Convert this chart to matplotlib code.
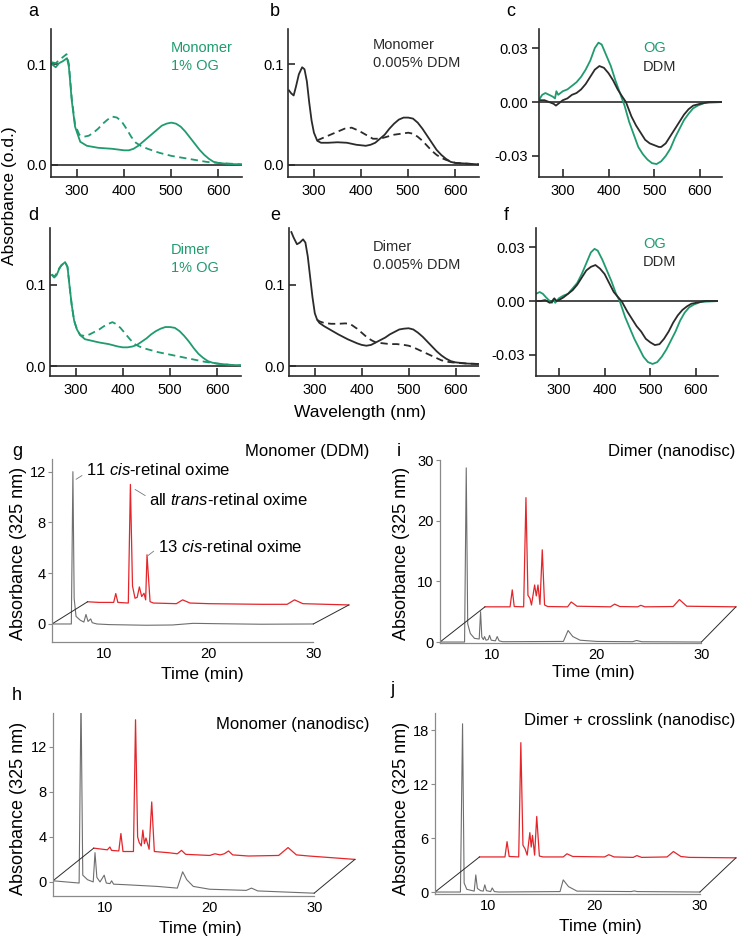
import matplotlib
matplotlib.use("Agg")
import matplotlib.pyplot as plt

plt.rcParams['font.family'] = ['Liberation Sans', 'DejaVu Sans']
plt.rcParams['mathtext.fontset'] = 'custom'
plt.rcParams['mathtext.rm'] = 'Liberation Sans'
plt.rcParams['mathtext.it'] = 'Liberation Sans:italic'

W, H = 738, 943
GREEN = '#1f9b6e'
DARK = '#2b2b2b'
RED = '#e4262b'
GRAY = '#6e6e6e'
AXGRAY = '#8a8a8a'

# ---------------- UV-vis spectra (wavelength nm, absorbance) ----------------
a_wl = [247, 255, 262, 270, 279, 283, 289, 296, 307, 321, 345, 375, 400, 410, 420, 430, 440, 450,
        460, 470, 480, 490, 500, 510, 520, 530, 540, 550, 560, 570, 580, 590, 600, 620, 650]
a_solid = [0.100, 0.097, 0.101, 0.103, 0.106, 0.097, 0.064, 0.038, 0.023, 0.019, 0.017, 0.016, 0.0145,
           0.0145, 0.016, 0.019, 0.023, 0.027, 0.031, 0.035, 0.039, 0.041, 0.042, 0.041, 0.038, 0.033,
           0.027, 0.021, 0.015, 0.010, 0.006, 0.003, 0.002, 0.001, 0.0005]
a_dash_wl = [247, 255, 262, 270, 278, 283, 289, 296, 305, 315, 325, 335, 345, 355, 365, 375, 385, 395,
             405, 415, 425, 435, 450, 475, 500, 525, 550, 575, 600, 650]
a_dash = [0.102, 0.101, 0.104, 0.107, 0.110, 0.100, 0.066, 0.040, 0.030, 0.028, 0.029, 0.032, 0.036,
          0.041, 0.045, 0.048, 0.047, 0.043, 0.036, 0.028, 0.022, 0.019, 0.016, 0.012, 0.009, 0.007,
          0.005, 0.003, 0.002, 0.0005]

b_wl = [247, 252, 257, 262, 268, 275, 280, 285, 290, 295, 300, 307, 315, 330, 350, 370, 390, 410, 420,
        430, 440, 450, 460, 470, 480, 490, 500, 510, 520, 530, 540, 550, 560, 570, 580, 590, 600, 650]
b_solid = [0.074, 0.071, 0.069, 0.078, 0.090, 0.097, 0.095, 0.083, 0.062, 0.044, 0.032, 0.024, 0.022,
           0.022, 0.0225, 0.022, 0.020, 0.019, 0.020, 0.022, 0.026, 0.030, 0.036, 0.041, 0.045, 0.047,
           0.047, 0.046, 0.042, 0.036, 0.029, 0.022, 0.015, 0.010, 0.006, 0.003, 0.002, 0.0005]
b_dash_wl = [307, 310, 320, 335, 350, 365, 380, 395, 410, 425, 440, 455, 470, 485, 500, 510, 520, 530,
             540, 550, 560, 570, 580, 600, 650]
b_dash = [0.024, 0.025, 0.027, 0.030, 0.033, 0.036, 0.037, 0.034, 0.030, 0.026, 0.026, 0.028, 0.030,
          0.031, 0.032, 0.031, 0.028, 0.024, 0.019, 0.014, 0.010, 0.007, 0.005, 0.002, 0.0005]

c_og_wl = [250, 255, 262, 270, 278, 283, 286, 290, 300, 310, 320, 330, 340, 350, 360, 370, 378, 385,
           395, 405, 415, 425, 435, 445, 455, 465, 475, 485, 495, 505, 515, 525, 535, 545, 555, 565,
           575, 585, 595, 610, 650]
c_og = [0.002, 0.004, 0.005, 0.004, 0.003, 0.002, 0.006, 0.004, 0.006, 0.007, 0.009, 0.011, 0.014,
        0.018, 0.023, 0.030, 0.033, 0.032, 0.026, 0.020, 0.012, 0.005, -0.002, -0.011, -0.018, -0.025,
        -0.029, -0.032, -0.034, -0.0345, -0.033, -0.030, -0.026, -0.020, -0.015, -0.010, -0.0065,
        -0.0035, -0.002, -0.0005, 0.0]
c_ddm_wl = [250, 260, 270, 280, 285, 290, 300, 310, 320, 330, 340, 350, 360, 370, 380, 390, 400, 410,
            420, 430, 438, 450, 460, 470, 480, 490, 500, 510, 515, 525, 535, 545, 555, 565, 575, 585,
            600, 620, 650]
c_ddm = [0.001, 0.001, 0.0, -0.001, -0.002, -0.001, 0.001, 0.002, 0.004, 0.005, 0.007, 0.010, 0.014,
         0.018, 0.020, 0.019, 0.016, 0.012, 0.007, 0.003, 0.0, -0.008, -0.013, -0.017, -0.021, -0.023,
         -0.024, -0.025, -0.025, -0.023, -0.019, -0.015, -0.011, -0.007, -0.004, -0.002, -0.001, 0.0, 0.0]

d_wl = [250, 255, 260, 265, 270, 278, 283, 288, 292, 297, 303, 310, 320, 335, 350, 370, 390, 400, 410,
        420, 430, 440, 450, 460, 470, 480, 490, 500, 510, 520, 530, 540, 550, 560, 570, 580, 590, 600,
        625, 650]
d_solid = [0.112, 0.109, 0.112, 0.119, 0.124, 0.128, 0.122, 0.095, 0.075, 0.056, 0.045, 0.038, 0.033,
           0.031, 0.029, 0.027, 0.024, 0.023, 0.023, 0.024, 0.026, 0.030, 0.034, 0.039, 0.043, 0.046,
           0.048, 0.048, 0.047, 0.043, 0.037, 0.030, 0.022, 0.015, 0.010, 0.006, 0.004, 0.003, 0.0015,
           0.0008]
d_dash_wl = [250, 255, 260, 265, 270, 278, 283, 288, 292, 297, 303, 310, 320, 330, 340, 350, 360, 370,
             378, 385, 395, 405, 415, 425, 435, 450, 475, 500, 525, 550, 575, 600, 625, 650]
d_dash = [0.113, 0.110, 0.114, 0.120, 0.124, 0.128, 0.122, 0.095, 0.075, 0.056, 0.045, 0.038, 0.037,
          0.039, 0.042, 0.045, 0.049, 0.052, 0.054, 0.052, 0.047, 0.040, 0.033, 0.027, 0.024, 0.021,
          0.017, 0.014, 0.011, 0.008, 0.005, 0.003, 0.0015, 0.0008]

e_wl = [250, 255, 262, 268, 275, 280, 285, 290, 295, 300, 305, 310, 320, 335, 350, 370, 390, 400, 410,
        420, 430, 440, 450, 460, 470, 480, 490, 500, 510, 520, 530, 540, 550, 560, 570, 580, 590, 600,
        625, 650]
e_solid = [0.165, 0.158, 0.150, 0.152, 0.156, 0.152, 0.135, 0.110, 0.085, 0.065, 0.057, 0.053, 0.049,
           0.044, 0.039, 0.033, 0.028, 0.026, 0.025, 0.026, 0.029, 0.032, 0.035, 0.039, 0.042, 0.045,
           0.046, 0.0465, 0.045, 0.041, 0.036, 0.030, 0.024, 0.018, 0.013, 0.009, 0.006, 0.0045, 0.003,
           0.0025]
e_dash_wl = [305, 310, 320, 335, 350, 365, 375, 390, 400, 410, 420, 430, 445, 460, 475, 490, 500, 510,
             525, 540, 555, 570, 585, 600, 625, 650]
e_dash = [0.057, 0.055, 0.053, 0.052, 0.052, 0.0525, 0.052, 0.046, 0.041, 0.036, 0.032, 0.029, 0.028,
          0.027, 0.027, 0.026, 0.025, 0.023, 0.019, 0.015, 0.011, 0.007, 0.005, 0.004, 0.003, 0.0025]

f_og_wl = [250, 258, 265, 272, 280, 285, 288, 292, 300, 310, 320, 330, 340, 350, 360, 370, 378, 385,
           395, 405, 415, 425, 433, 445, 455, 465, 475, 485, 495, 505, 515, 525, 535, 545, 555, 565,
           575, 585, 595, 610, 650]
f_og = [0.004, 0.005, 0.004, 0.002, 0.0, -0.001, 0.001, -0.001, 0.0015, 0.003, 0.004, 0.007, 0.010,
        0.015, 0.021, 0.027, 0.029, 0.028, 0.023, 0.017, 0.011, 0.004, 0.0, -0.009, -0.015, -0.021,
        -0.026, -0.031, -0.034, -0.035, -0.034, -0.031, -0.027, -0.022, -0.017, -0.011, -0.0065,
        -0.0035, -0.002, -0.0005, 0.0]
f_ddm_wl = [250, 260, 270, 280, 285, 290, 295, 300, 310, 320, 330, 340, 350, 360, 370, 380, 390, 400,
            410, 420, 430, 437, 450, 460, 470, 480, 490, 500, 510, 520, 530, 540, 550, 560, 570, 580,
            590, 600, 620, 650]
f_ddm = [0.0, 0.0, 0.0005, -0.001, -0.0005, 0.0015, 0.0, 0.0005, 0.002, 0.004, 0.006, 0.009, 0.013,
         0.017, 0.019, 0.020, 0.018, 0.015, 0.010, 0.005, 0.002, 0.0, -0.006, -0.010, -0.014, -0.017,
         -0.021, -0.023, -0.0245, -0.024, -0.021, -0.017, -0.012, -0.008, -0.005, -0.003, -0.0015,
         -0.001, 0.0, 0.0]

# ---------------- HPLC traces (time min, absorbance); red traces in offset display coords ----------------
g_gray_t = [5.0, 6.85, 7.0, 7.12, 7.3, 7.7, 8.05, 8.25, 8.45, 8.7, 8.85, 9.3, 10.5, 14, 16.5, 18.5, 21, 25, 30.0]
g_gray_v = [0.0, 0.0, 12.0, 2.0, 0.6, 0.3, 0.15, 0.75, 0.2, 0.4, 0.1, 0.0, -0.05, -0.1, -0.08, 0.05, 0.02, -0.02, 0.0]
g_red_t = [8.4, 9.5, 10.9, 11.1, 11.3, 12.3, 12.5, 12.7, 12.94, 13.15, 13.36, 13.58, 13.8, 13.96, 14.09,
           14.38, 14.7, 16.9, 17.5, 18.2, 20, 25, 27.5, 28.2, 29.0, 33.4]
g_red_v = [1.75, 1.7, 1.7, 2.4, 1.7, 1.65, 11.0, 3.0, 2.03, 2.1, 2.92, 2.16, 2.42, 1.9, 5.45,
           1.76, 1.65, 1.6, 1.9, 1.65, 1.6, 1.55, 1.55, 1.9, 1.6, 1.5]

i_gray_t = [5.0, 7.35, 7.51, 7.65, 7.9, 8.3, 8.75, 8.88, 9.0, 9.15, 9.26, 9.4, 9.6, 9.74, 9.9, 10.3,
            10.47, 10.65, 11.0, 16.8, 17.25, 17.7, 18.4, 20, 23.4, 23.8, 24.3, 30.0]
i_gray_v = [0.0, 0.0, 28.7, 3.0, 1.4, 0.6, 0.5, 5.0, 0.8, 0.4, 0.9, 0.3, 0.4, 1.1, 0.3, 0.2,
            0.9, 0.2, 0.05, 0.1, 1.9, 0.9, 0.3, 0.1, 0.05, 0.25, 0.05, 0.0]
i_red_t = [9.3, 11.7, 11.91, 12.1, 13.0, 13.22, 13.41, 13.6, 13.75, 14.05, 14.21, 14.37, 14.56, 14.78,
           15.0, 15.3, 17.2, 17.55, 18.1, 21.3, 21.7, 22.2, 23.9, 24.2, 24.6, 27.3, 27.9, 28.6, 33.3]
i_red_v = [5.8, 5.8, 8.6, 5.85, 5.8, 23.8, 7.7, 7.2, 6.1, 9.4, 7.6, 9.4, 6.2, 15.2,
           6.1, 5.85, 5.8, 6.6, 5.9, 5.8, 6.25, 5.85, 5.8, 6.05, 5.8, 5.85, 7.0, 5.9, 5.8]

h_gray_t = [5.0, 7.5, 7.68, 7.85, 8.3, 8.85, 9.02, 9.2, 9.5, 9.9, 10.1, 10.45, 10.61, 10.8, 12.0, 15.0,
            16.9, 17.41, 17.8, 18.43, 20.0, 23.5, 24.0, 24.6, 30.0]
h_gray_v = [0.1, -0.1, 16.5, 0.6, 0.2, 0.0, 2.6, 0.4, 0.0, 0.6, -0.1, -0.15, 0.1, -0.2, -0.25, -0.4,
            -0.55, 0.9, 0.2, -0.4, -0.65, -0.75, -0.55, -0.8, -1.0]
h_red_t = [8.9, 10.2, 10.45, 10.6, 11.3, 11.5, 11.7, 12.7, 12.9, 13.1, 13.25, 13.45, 13.6, 13.75, 13.9,
           14.2, 14.45, 14.7, 16.0, 16.9, 17.3, 17.7, 20.0, 20.5, 21.0, 21.4, 21.8, 22.2, 23.7, 26.6,
           27.5, 28.3, 29.5, 33.9]
h_red_v = [3.0, 2.85, 3.1, 2.8, 2.75, 4.3, 2.7, 2.7, 14.4, 4.0, 3.5, 3.2, 4.6, 3.4, 3.9,
           2.9, 7.1, 2.7, 2.6, 2.5, 2.8, 2.45, 2.35, 2.5, 2.4, 2.5, 2.75, 2.4, 2.3, 2.35,
           3.05, 2.4, 2.3, 2.0]

j_gray_t = [5.0, 7.4, 7.6, 7.75, 8.0, 8.7, 8.85, 9.0, 9.3, 9.55, 9.7, 9.85, 10.25, 10.4, 10.6, 11.0,
            16.8, 17.1, 17.6, 18.4, 23.5, 23.8, 24.1, 30.0]
j_gray_v = [0.0, 0.0, 18.7, 1.0, 0.3, 0.1, 1.9, 0.4, 0.15, 0.1, 0.8, 0.15, 0.05, 0.45, 0.05, 0.0,
            0.05, 1.35, 0.6, 0.1, 0.05, 0.12, 0.05, 0.0]
j_red_t = [9.2, 11.6, 11.8, 12.0, 12.9, 13.1, 13.3, 13.5, 13.7, 13.95, 14.08, 14.2, 14.4, 14.6, 14.85,
           15.2, 17.1, 17.45, 18.0, 21.0, 21.4, 21.9, 23.7, 24.05, 24.5, 26.9, 27.5, 28.2, 29.0, 33.4]
j_red_v = [3.9, 3.9, 5.6, 3.95, 3.9, 16.6, 5.2, 4.8, 4.1, 6.6, 5.0, 6.3, 4.1, 8.4, 4.0,
           3.9, 3.9, 4.25, 3.95, 3.9, 4.15, 3.9, 3.85, 4.05, 3.85, 3.9, 4.5, 3.95, 3.85, 3.8]


fig = plt.figure(figsize=(W / 100, H / 100), dpi=100)


def add_ax(x0, y0, x1, y1):
    # pixel box (top-left origin) -> figure fraction
    return fig.add_axes([x0 / W, 1 - y1 / H, (x1 - x0) / W, (y1 - y0) / H])


def label(x, y, s, **kw):
    kw.setdefault('va', 'center')
    fig.text(x / W, 1 - y / H, s, **kw)


def spectrum_axes(box, xlim, ylim, yticks, ylabels, ydir):
    ax = add_ax(*box)
    ax.set_xlim(*xlim)
    ax.set_ylim(*ylim)
    ax.patch.set_alpha(0)
    for s in ['top', 'right']:
        ax.spines[s].set_visible(False)
    for s in ['left', 'bottom']:
        ax.spines[s].set_color(DARK)
        ax.spines[s].set_linewidth(1.2)
    ax.set_xticks([300, 400, 500, 600])
    ax.set_yticks(yticks)
    ax.set_yticklabels(ylabels)
    ax.tick_params(axis='x', direction='in', length=6, width=1.2, pad=5, labelsize=10.5, color=DARK)
    ax.tick_params(axis='y', direction=ydir, length=5, width=1.2, pad=3, labelsize=10.5, color=DARK)
    ax.axhline(0, color=DARK, lw=1.2, zorder=1)
    return ax


abs_ticks = [0.0, 0.1]
abs_labels = ['0.0', '0.1']
diff_ticks = [-0.03, 0.0, 0.03]
diff_labels = ['-0.03', '0.00', '0.03']

ax = spectrum_axes((51, 29, 242, 177), (245, 650), (-0.012, 0.135), abs_ticks, abs_labels, 'in')
ax.plot(a_dash_wl, a_dash, color=GREEN, lw=1.3, dashes=(4, 2.5))
ax.plot(a_wl, a_solid, color=GREEN, lw=1.3)

ax = spectrum_axes((288, 29, 479, 177), (245, 650), (-0.012, 0.135), abs_ticks, abs_labels, 'in')
ax.plot(b_dash_wl, b_dash, color=DARK, lw=1.3, dashes=(4, 2.5))
ax.plot(b_wl, b_solid, color=DARK, lw=1.3)

ax = spectrum_axes((539, 29, 722, 177), (248, 648), (-0.0417, 0.0406), diff_ticks, diff_labels, 'out')
ax.plot(c_og_wl, c_og, color=GREEN, lw=1.3)
ax.plot(c_ddm_wl, c_ddm, color=DARK, lw=1.3)

ax = spectrum_axes((50, 228, 241, 376), (246, 650), (-0.0123, 0.170), abs_ticks, abs_labels, 'in')
ax.plot(d_dash_wl, d_dash, color=GREEN, lw=1.3, dashes=(4, 2.5))
ax.plot(d_wl, d_solid, color=GREEN, lw=1.3)

ax = spectrum_axes((289, 228, 479, 376), (245, 650), (-0.0123, 0.170), abs_ticks, abs_labels, 'in')
ax.plot(e_dash_wl, e_dash, color=DARK, lw=1.3, dashes=(4, 2.5))
ax.plot(e_wl, e_solid, color=DARK, lw=1.3)

ax = spectrum_axes((536, 228, 718, 376), (250, 648), (-0.0417, 0.0406), diff_ticks, diff_labels, 'out')
ax.plot(f_og_wl, f_og, color=GREEN, lw=1.3)
ax.plot(f_ddm_wl, f_ddm, color=DARK, lw=1.3)

# annotations of the spectra
label(171, 57, 'Monomer\n1% OG', color=GREEN, fontsize=10.5, linespacing=1.3)
label(373, 54, 'Monomer\n0.005% DDM', color=DARK, fontsize=10.5, linespacing=1.3)
label(643, 48, 'OG', color=GREEN, fontsize=10.5)
label(643, 67, 'DDM', color=DARK, fontsize=10.5)
label(171, 259, 'Dimer\n1% OG', color=GREEN, fontsize=10.5, linespacing=1.3)
label(373, 256, 'Dimer\n0.005% DDM', color=DARK, fontsize=10.5, linespacing=1.3)
label(643, 244, 'OG', color=GREEN, fontsize=10.5)
label(643, 262, 'DDM', color=DARK, fontsize=10.5)

for x, y, s in [(28, 12, 'a'), (270, 12, 'b'), (506, 12, 'c'),
                (28, 216, 'd'), (270, 216, 'e'), (504, 216, 'f'),
                (12, 452, 'g'), (397, 452, 'i'), (12, 695, 'h'), (390, 690, 'j')]:
    label(x, y, s, fontsize=13)

label(360, 412, 'Wavelength (nm)', fontsize=12.5, ha='center')
label(10, 196, 'Absorbance (o.d.)', fontsize=12.5, ha='center', rotation=90)


def hplc_axes(box, xlim, ylim, yticks, gray_t, gray_v, red_t, red_v):
    ax = add_ax(*box)
    ax.set_xlim(*xlim)
    ax.set_ylim(*ylim)
    ax.patch.set_alpha(0)
    for s in ['top', 'right']:
        ax.spines[s].set_visible(False)
    for s in ['left', 'bottom']:
        ax.spines[s].set_color(AXGRAY)
        ax.spines[s].set_linewidth(0.9)
    ax.spines['bottom'].set_bounds(5, 30)
    ax.set_xticks([10, 20, 30])
    ax.set_yticks(yticks)
    ax.tick_params(axis='x', length=0, pad=3.5, labelsize=10.5)
    ax.tick_params(axis='y', direction='out', length=3, width=0.8, color=AXGRAY, pad=1.5, labelsize=10.5)
    ax.plot(gray_t, gray_v, color=GRAY, lw=0.8)
    ax.plot(red_t, red_v, color=RED, lw=0.9)
    # pseudo-3D base: join start and end of the two traces
    ax.plot([gray_t[0], red_t[0]], [gray_v[0], red_v[0]], color=DARK, lw=0.7)
    ax.plot([gray_t[-1], red_t[-1]], [gray_v[-1], red_v[-1]], color=DARK, lw=0.7)
    return ax


ax_g = hplc_axes((52, 459, 352, 642), (5, 33.7), (-1.42, 13.0), [0, 4, 8, 12],
                 g_gray_t, g_gray_v, g_red_t, g_red_v)
lead = dict(arrowstyle='-', color='#777777', lw=0.6, shrinkA=1, shrinkB=0)
ax_g.annotate('11 $\\mathit{cis}$-retinal oxime', xy=(7.3, 11.4), xytext=(8.25, 12.15),
              fontsize=12, va='center', arrowprops=dict(lead, relpos=(0, 0.3)))
ax_g.annotate('all $\\mathit{trans}$-retinal oxime', xy=(12.95, 10.6), xytext=(14.3, 9.8),
              fontsize=12, va='center', arrowprops=dict(lead, relpos=(0, 0.6)))
ax_g.annotate('13 $\\mathit{cis}$-retinal oxime', xy=(14.2, 5.4), xytext=(15.1, 6.1),
              fontsize=12, va='center', arrowprops=dict(lead, relpos=(0, 0.4)))

hplc_axes((440, 460, 738, 643), (5, 33.5), (-0.16, 30.0), [0, 10, 20, 30],
          i_gray_t, i_gray_v, i_red_t, i_red_v)
hplc_axes((53, 713, 357, 896), (5, 34.1), (-1.25, 15.0), [0, 4, 8, 12],
          h_gray_t, h_gray_v, h_red_t, h_red_v)
hplc_axes((435, 713, 737, 894), (5, 33.5), (-0.22, 19.9), [0, 6, 12, 18],
          j_gray_t, j_gray_v, j_red_t, j_red_v)

label(369, 452, 'Monomer (DDM)', fontsize=12, ha='right')
label(735, 452, 'Dimer (nanodisc)', fontsize=12, ha='right')
label(369, 725, 'Monomer (nanodisc)', fontsize=12, ha='right')
label(735, 720, 'Dimer + crosslink (nanodisc)', fontsize=12, ha='right')

label(202, 674, 'Time (min)', fontsize=12.5, ha='center')
label(593, 673, 'Time (min)', fontsize=12.5, ha='center')
label(200, 928, 'Time (min)', fontsize=12.5, ha='center')
label(600, 926, 'Time (min)', fontsize=12.5, ha='center')
label(19, 553, 'Absorbance (325 nm)', fontsize=13, ha='center', rotation=90)
label(402, 553, 'Absorbance (325 nm)', fontsize=13, ha='center', rotation=90)
label(19, 808, 'Absorbance (325 nm)', fontsize=13, ha='center', rotation=90)
label(401, 808, 'Absorbance (325 nm)', fontsize=13, ha='center', rotation=90)

fig.savefig('out.png', dpi=100)
